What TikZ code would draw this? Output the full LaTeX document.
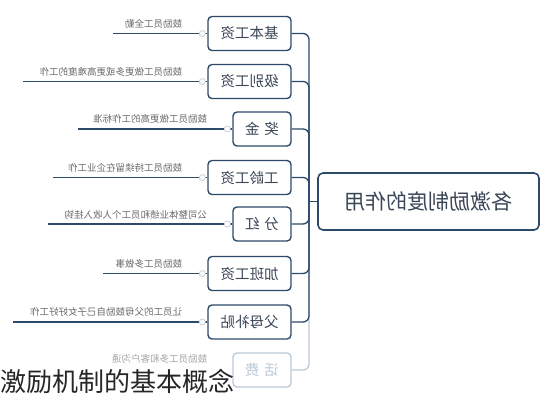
\documentclass[tikz,border=0pt]{standalone}
\usepackage{fontspec}
\usepackage{graphicx}
\setmainfont{Noto Sans CJK SC}
\definecolor{edge}{HTML}{2E4A6B}
\definecolor{boxtxt}{HTML}{3A4656}
\definecolor{leaftxt}{HTML}{6A6A6A}
\definecolor{dot}{HTML}{C8D0DA}
\definecolor{fade}{HTML}{BCCAD8}
\tikzset{
  branch/.style={draw=edge, line width=1.4pt, rounded corners=4pt, fill=white,
    text=boxtxt, font=\fontsize{14.5}{14.5}\selectfont, minimum height=34pt, inner sep=0pt},
  wide/.style={branch, minimum width=83pt},
  narrow/.style={branch, minimum width=58pt},
  mainbox/.style={draw=edge, line width=1.6pt, rounded corners=5pt, fill=white,
    text=boxtxt, font=\fontsize{21}{21}\selectfont, minimum width=221pt, minimum height=57pt, inner sep=0pt},
  conn/.style={draw=edge, line width=1.3pt, rounded corners=6pt},
  leafline/.style={draw=edge, line width=1.2pt},
  leaftext/.style={text=leaftxt, font=\fontsize{9.5}{9.5}\selectfont, inner sep=0pt, anchor=south east},
  jdot/.style={circle, draw=dot, fill=white, line width=0.8pt, minimum size=6pt, inner sep=0pt}
}
\newcommand{\mir}[1]{\reflectbox{#1}}
\begin{document}
\begin{tikzpicture}[x=1pt,y=-1pt]
\useasboundingbox (0,0) rectangle (552,400);
% main
\node[mainbox] (main) at (428.5,201.5) {\mir{各激励制度的作用}};
\coordinate (hub) at (309,201.5);
% branches
\node[wide] (b1) at (249.5,33.5) {\mir{基本工资}};
\node[wide] (b2) at (249.5,81.5) {\mir{级别工资}};
\node[narrow] (b3) at (262,129) {\mir{奖\,\,金}};
\node[wide] (b4) at (249.5,177.5) {\mir{工龄工资}};
\node[narrow] (b5) at (262,224) {\mir{分\,\,红}};
\node[wide] (b6) at (249.5,273.5) {\mir{加班工资}};
\node[wide] (b7) at (249.5,322) {\mir{父母补贴}};
\node[narrow, draw=fade, text=fade] (b8) at (262,370) {\mir{话\,\,费}};
% connectors
\draw[conn, draw=fade] (b8.east) -| (hub);
\foreach \b in {b1,b2,b3,b4,b5,b6,b7} { \draw[conn] (\b.east) -| (hub); }
\draw[conn] (hub) -- (main.west);
% leaves
\coordinate (l1) at (113,33.5);
\coordinate (l2) at (23,81.5);
\coordinate (l3) at (78,129);
\coordinate (l4) at (53,177.5);
\coordinate (l5) at (48,224);
\coordinate (l6) at (103,273.5);
\coordinate (l7) at (13,322);
\foreach \b/\l/\t in {b1/l1/鼓励员工全勤, b2/l2/鼓励员工做更多或更高难度的工作, b3/l3/鼓励员工做更高的工作标准, b4/l4/鼓励员工持续留在企业工作, b5/l5/公司整体业绩和员工个人收入挂钩, b6/l6/鼓励员工多做事, b7/l7/让员工的父母鼓励自己子女好好工作} {
  \draw[leafline] (\b.west) -- (\l);
  \node[jdot] at ([xshift=-5pt]\b.west) {};
  \node[leaftext] at ([xshift=-25pt,yshift=5pt]\b.west) {\mir{\t}};
}
\node[leaftext, text=leaftxt!60] (t8) at ([xshift=-25pt,yshift=6pt]b8.west) {\mir{鼓励员工多和客户沟通}};
% caption
\node[anchor=west, inner sep=0pt, font=\fontsize{26}{26}\selectfont, text=black!85] (cap) at (0,381) {激励机制的基本概念};
\end{tikzpicture}
\end{document}
